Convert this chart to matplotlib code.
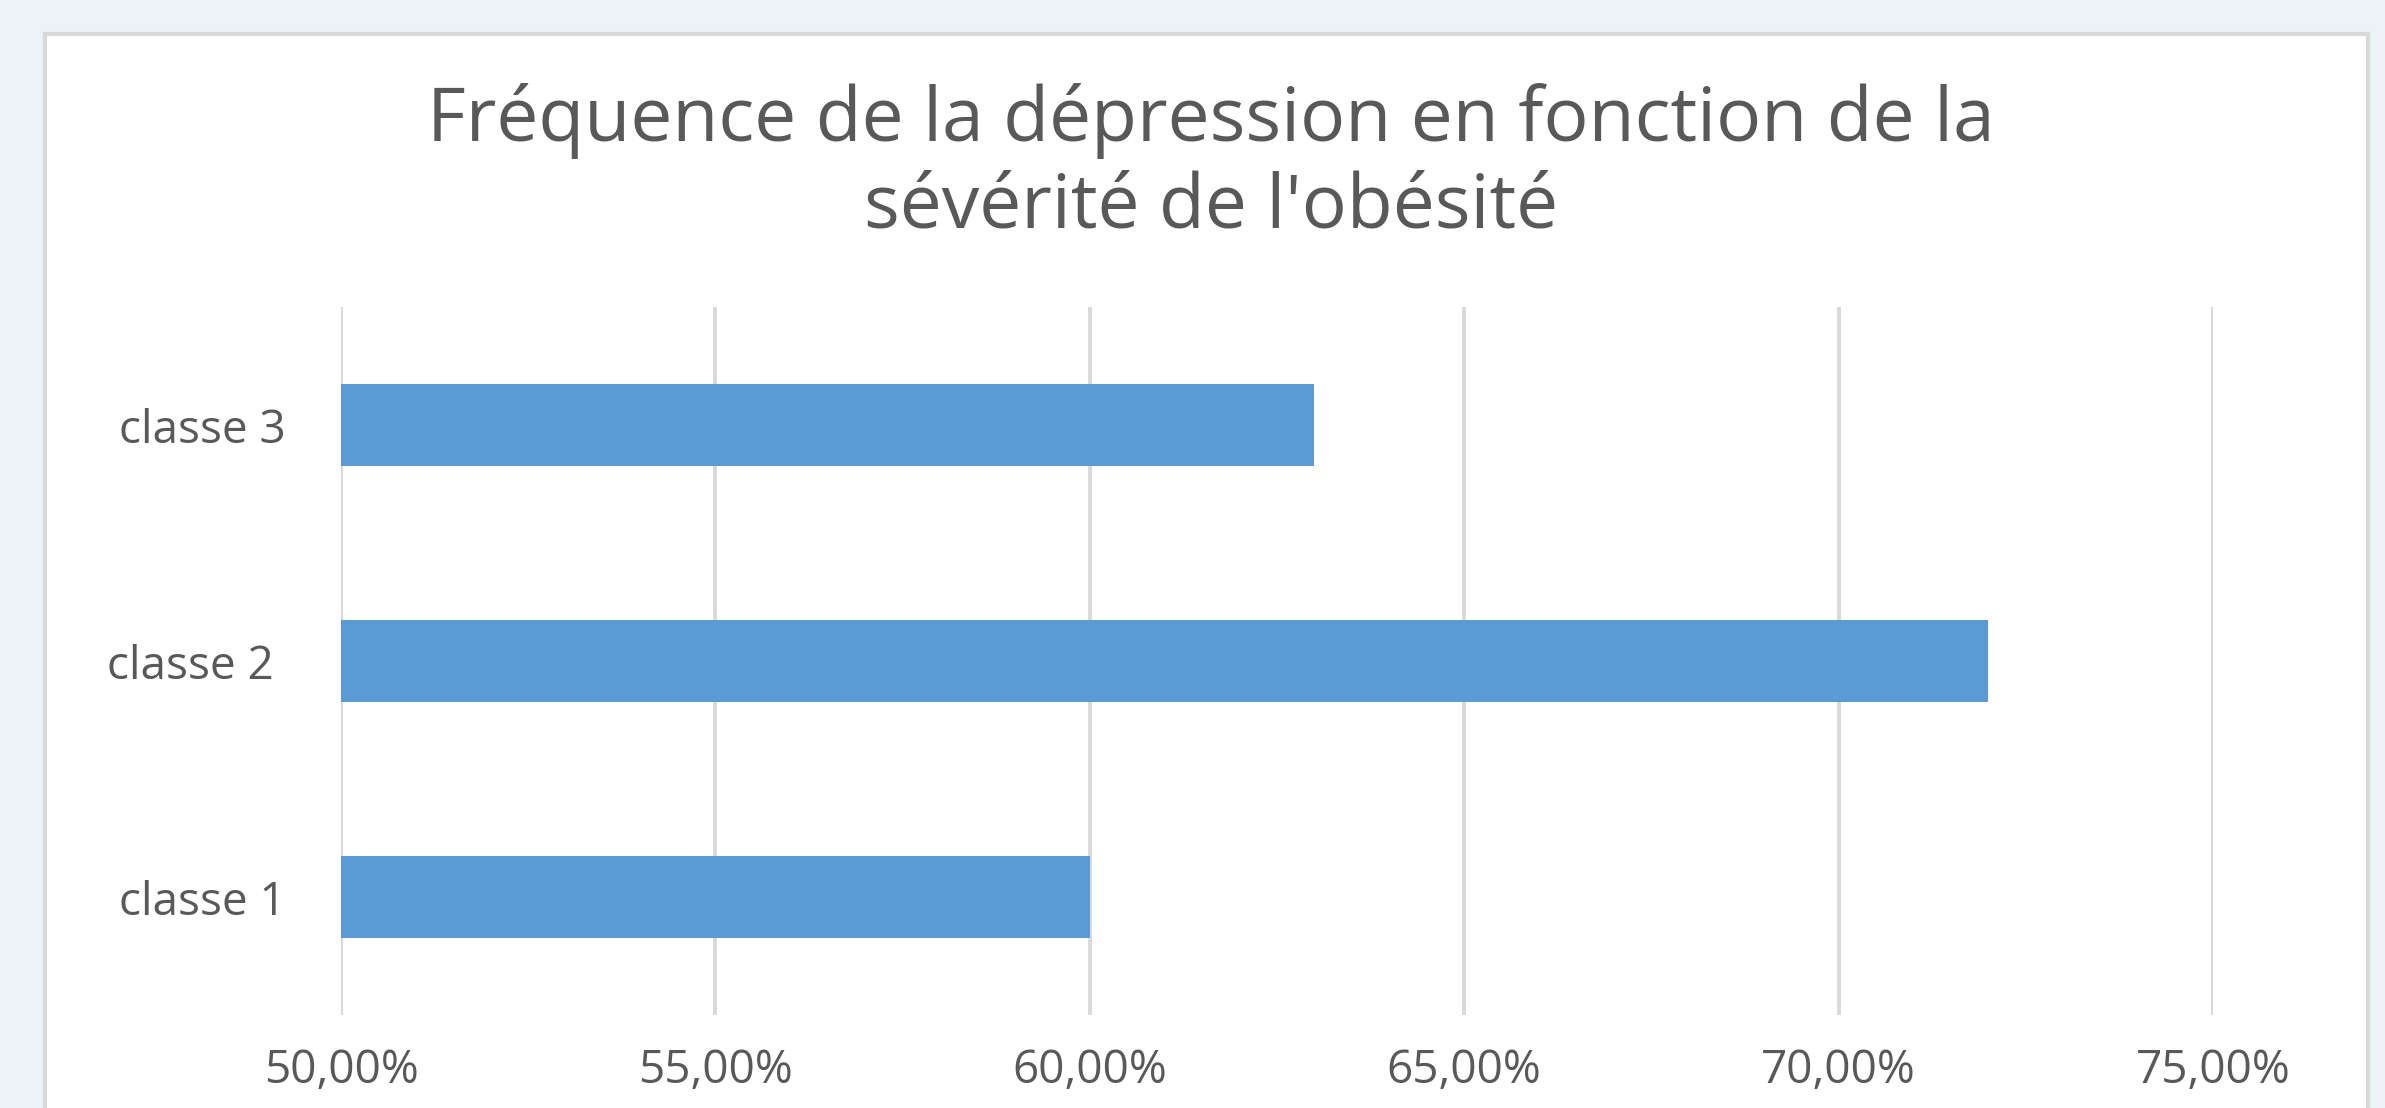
import matplotlib
matplotlib.use("Agg")
import matplotlib.pyplot as plt
from matplotlib.patches import Rectangle
from matplotlib.ticker import FuncFormatter

# Données
classes = ["classe 1", "classe 2 ", "classe 3"]
frequences = [0.60, 0.72, 0.63]
graduations = [0.50, 0.55, 0.60, 0.65, 0.70, 0.75]
titre = "Fréquence de la dépression en fonction de la\nsévérité de l'obésité"

plt.rcParams['font.family'] = ['Open Sans', 'DejaVu Sans']
gris_texte = '#595959'

fig = plt.figure(figsize=(23.85, 11.08), dpi=100)
fig.patch.set_facecolor('#EBF3F6')

# Cadre blanc du graphique
fig.patches.append(Rectangle((0.0189, -0.05), 0.974, 1.0193, transform=fig.transFigure,
                             facecolor='white', edgecolor='#D9D9D9', linewidth=3, zorder=-5))

ax = fig.add_axes([0.1430, 0.0839, 0.7849, 0.639])
ax.set_facecolor('none')

ax.barh(range(len(classes)), frequences, height=0.35, color='#5B9BD5', zorder=3)

ax.set_xlim(graduations[0], graduations[-1])
ax.set_ylim(-0.5, len(classes) - 0.5)
ax.set_xticks(graduations)
ax.xaxis.set_major_formatter(FuncFormatter(lambda v, p: f"{v * 100:.2f}%".replace('.', ',')))
ax.set_yticks(range(len(classes)))
ax.set_yticklabels(classes)

ax.grid(axis='x', color='#D9D9D9', linewidth=2.8, zorder=0)
for s in ax.spines.values():
    s.set_visible(False)
ax.tick_params(axis='both', length=0, colors=gris_texte, labelsize=33)
ax.tick_params(axis='x', pad=24)
ax.tick_params(axis='y', pad=40)

fig.text(0.5078, 0.852, titre, ha='center', va='center', fontsize=54,
         color=gris_texte, linespacing=1.2)

fig.savefig('out.png', dpi=100, facecolor=fig.get_facecolor())
